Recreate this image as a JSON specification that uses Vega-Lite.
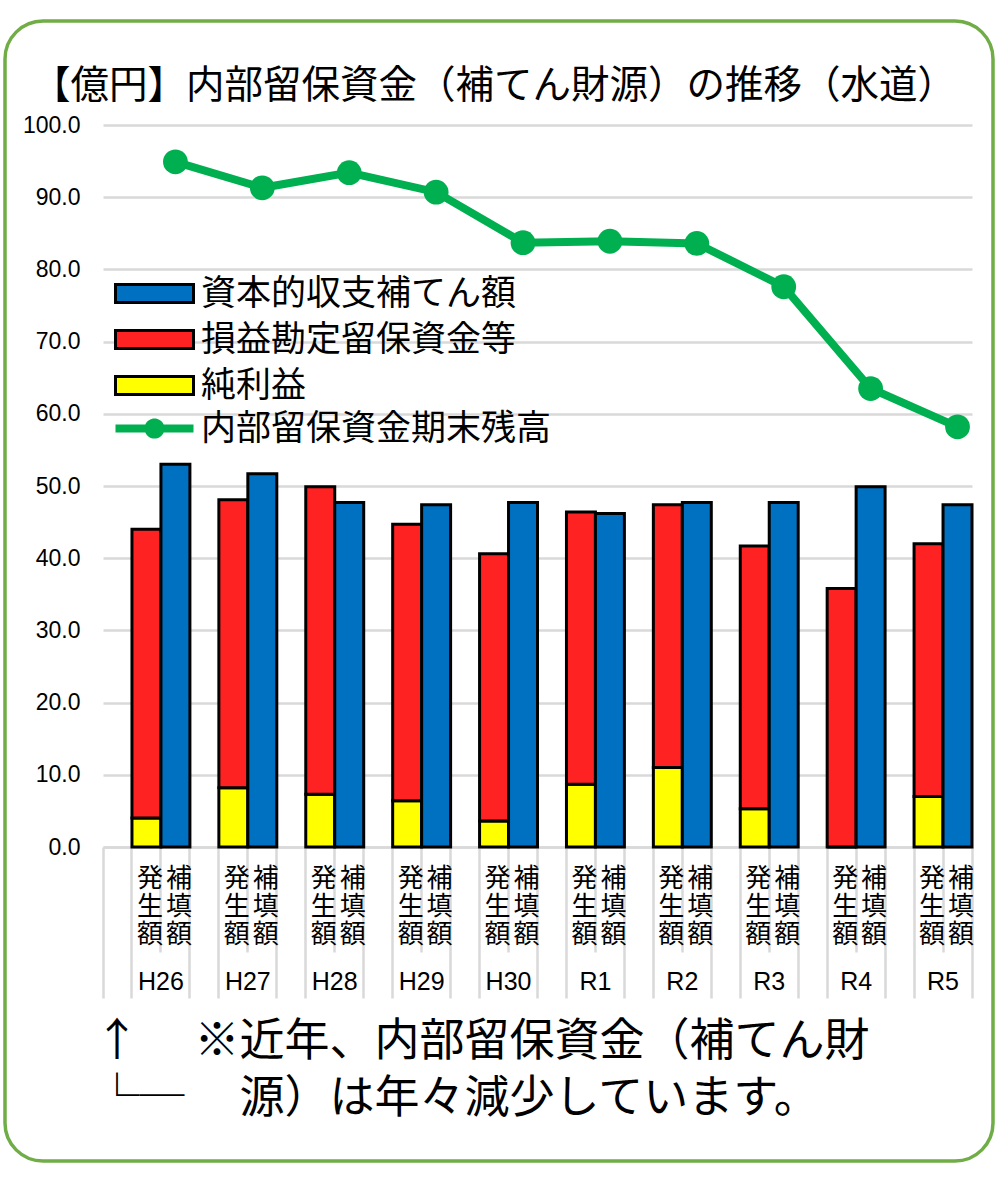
{
  "$schema": "https://vega.github.io/schema/vega-lite/v6.json",
  "width": 988,
  "height": 1140,
  "padding": {"left": 5, "top": 21, "right": 7, "bottom": 27},
  "autosize": {"type": "pad"},
  "background": "white",
  "config": {
    "view": {"stroke": "#70AD47", "strokeWidth": 3.5, "cornerRadius": 38, "fill": "white"},
    "font": "Noto Sans CJK JP"
  },
  "title": {
    "text": "【億円】内部留保資金（補てん財源）の推移（水道）",
    "font": "Noto Sans CJK JP",
    "fontSize": 38.5,
    "fontWeight": "normal",
    "color": "black",
    "anchor": "middle",
    "frame": "group",
    "baseline": "alphabetic",
    "offset": -115,
    "dx": -5
  },
  "datasets": {
    "bars": [
      {"cat": "H26|発生額", "series": "純利益", "v": 4.0},
      {"cat": "H26|発生額", "series": "損益勘定留保資金等", "v": 40.0},
      {"cat": "H26|補填額", "series": "資本的収支補てん額", "v": 53.0},
      {"cat": "H27|発生額", "series": "純利益", "v": 8.2},
      {"cat": "H27|発生額", "series": "損益勘定留保資金等", "v": 39.9},
      {"cat": "H27|補填額", "series": "資本的収支補てん額", "v": 51.7},
      {"cat": "H28|発生額", "series": "純利益", "v": 7.3},
      {"cat": "H28|発生額", "series": "損益勘定留保資金等", "v": 42.6},
      {"cat": "H28|補填額", "series": "資本的収支補てん額", "v": 47.7},
      {"cat": "H29|発生額", "series": "純利益", "v": 6.4},
      {"cat": "H29|発生額", "series": "損益勘定留保資金等", "v": 38.3},
      {"cat": "H29|補填額", "series": "資本的収支補てん額", "v": 47.4},
      {"cat": "H30|発生額", "series": "純利益", "v": 3.6},
      {"cat": "H30|発生額", "series": "損益勘定留保資金等", "v": 37.0},
      {"cat": "H30|補填額", "series": "資本的収支補てん額", "v": 47.7},
      {"cat": "R1|発生額", "series": "純利益", "v": 8.7},
      {"cat": "R1|発生額", "series": "損益勘定留保資金等", "v": 37.7},
      {"cat": "R1|補填額", "series": "資本的収支補てん額", "v": 46.2},
      {"cat": "R2|発生額", "series": "純利益", "v": 11.0},
      {"cat": "R2|発生額", "series": "損益勘定留保資金等", "v": 36.4},
      {"cat": "R2|補填額", "series": "資本的収支補てん額", "v": 47.7},
      {"cat": "R3|発生額", "series": "純利益", "v": 5.3},
      {"cat": "R3|発生額", "series": "損益勘定留保資金等", "v": 36.4},
      {"cat": "R3|補填額", "series": "資本的収支補てん額", "v": 47.7},
      {"cat": "R4|発生額", "series": "純利益", "v": 0},
      {"cat": "R4|発生額", "series": "損益勘定留保資金等", "v": 35.8},
      {"cat": "R4|補填額", "series": "資本的収支補てん額", "v": 49.9},
      {"cat": "R5|発生額", "series": "純利益", "v": 7.0},
      {"cat": "R5|発生額", "series": "損益勘定留保資金等", "v": 35.0},
      {"cat": "R5|補填額", "series": "資本的収支補てん額", "v": 47.4}
    ],
    "line": [
      {"cat": "H26|補填額", "series": "内部留保資金期末残高", "v": 94.9},
      {"cat": "H27|補填額", "series": "内部留保資金期末残高", "v": 91.3},
      {"cat": "H28|補填額", "series": "内部留保資金期末残高", "v": 93.4},
      {"cat": "H29|補填額", "series": "内部留保資金期末残高", "v": 90.7},
      {"cat": "H30|補填額", "series": "内部留保資金期末残高", "v": 83.7},
      {"cat": "R1|補填額", "series": "内部留保資金期末残高", "v": 83.9},
      {"cat": "R2|補填額", "series": "内部留保資金期末残高", "v": 83.6},
      {"cat": "R3|補填額", "series": "内部留保資金期末残高", "v": 77.6},
      {"cat": "R4|補填額", "series": "内部留保資金期末残高", "v": 63.5},
      {"cat": "R5|補填額", "series": "内部留保資金期末残高", "v": 58.2}
    ]
  },
  "layer": [
    {
      "data": {"name": "bars"},
      "mark": {"type": "bar", "stroke": "black", "strokeWidth": 3},
      "encoding": {
        "x": {
          "field": "cat",
          "type": "nominal",
          "sort": null,
          "scale": {
            "domain": ["H26|", "H26|発生額", "H26|補填額", "H27|", "H27|発生額", "H27|補填額", "H28|", "H28|発生額", "H28|補填額", "H29|", "H29|発生額", "H29|補填額", "H30|", "H30|発生額", "H30|補填額", "R1|", "R1|発生額", "R1|補填額", "R2|", "R2|発生額", "R2|補填額", "R3|", "R3|発生額", "R3|補填額", "R4|", "R4|発生額", "R4|補填額", "R5|", "R5|発生額", "R5|補填額"],
            "range": [98, 967],
            "paddingInner": 0,
            "paddingOuter": 0
          },
          "axis": {
            "orient": "bottom",
            "offset": -314,
            "bandPosition": 1,
            "grid": false,
            "domain": true,
            "domainColor": "#D9D9D9",
            "domainWidth": 2.5,
            "ticks": true,
            "tickColor": "#D9D9D9",
            "tickWidth": 2.5,
            "tickSize": {"condition": {"test": "indexof(datum.value, '発生額') >= 0", "value": 105}, "value": 151},
            "labelExpr": "indexof(datum.value, '発生額') >= 0 ? split(datum.value, '|')[0] : ''",
            "labelBaseline": "middle",
            "labelAlign": "center",
            "labelOffset": 14.5,
            "labelPadding": 29,
            "labelFont": "Liberation Sans",
            "labelFontSize": 25,
            "labelColor": "black",
            "labelOverlap": false,
            "labelBound": false,
            "labelFlush": false,
            "labelAngle": 0,
            "title": ["↑　 ※近年、内部留保資金（補てん財", "└─　 源）は年々減少しています。"],
            "titleFont": "Noto Sans CJK JP",
            "titleFontSize": 45,
            "titleFontWeight": "normal",
            "titleColor": "black",
            "titleAlign": "left",
            "titleAnchor": "start",
            "titleBaseline": "top",
            "titleLineHeight": 57,
            "titleX": 89,
            "titleY": 172
          }
        },
        "y": {
          "field": "v",
          "type": "quantitative",
          "stack": "zero",
          "scale": {"domain": [0, 100], "range": [826, 104], "nice": false, "zero": true},
          "axis": {
            "orient": "left",
            "offset": -98,
            "values": [0, 10, 20, 30, 40, 50, 60, 70, 80, 90, 100],
            "format": ".1f",
            "domain": false,
            "ticks": false,
            "tickSize": 0,
            "labelPadding": 23,
            "labelFont": "Liberation Sans",
            "labelFontSize": 23,
            "labelColor": "black",
            "grid": true,
            "gridColor": "#D9D9D9",
            "gridWidth": 2.5,
            "title": null
          }
        },
        "color": {
          "field": "series",
          "type": "nominal",
          "scale": {
            "domain": ["資本的収支補てん額", "損益勘定留保資金等", "純利益"],
            "range": ["#0070C0", "#FF2222", "#FFFF00"]
          },
          "legend": {
            "orient": "none",
            "legendX": 103,
            "legendY": 255,
            "title": null,
            "direction": "vertical",
            "symbolType": "M-1,-0.9H6.8V0.9H-1Z",
            "symbolSize": 400,
            "symbolStrokeColor": "black",
            "symbolStrokeWidth": 3,
            "symbolOpacity": 1,
            "labelFont": "Noto Sans CJK JP",
            "labelFontSize": 35,
            "labelColor": "black",
            "labelOffset": 58,
            "labelLimit": 600,
            "rowPadding": 10
          }
        },
        "order": {"field": "series", "sort": "descending"}
      }
    },
    {
      "data": {"name": "line"},
      "mark": {"type": "line", "color": "#00B050", "strokeWidth": 8},
      "encoding": {
        "x": {
          "field": "cat",
          "type": "nominal",
          "sort": null,
          "scale": {
            "domain": ["H26|", "H26|発生額", "H26|補填額", "H27|", "H27|発生額", "H27|補填額", "H28|", "H28|発生額", "H28|補填額", "H29|", "H29|発生額", "H29|補填額", "H30|", "H30|発生額", "H30|補填額", "R1|", "R1|発生額", "R1|補填額", "R2|", "R2|発生額", "R2|補填額", "R3|", "R3|発生額", "R3|補填額", "R4|", "R4|発生額", "R4|補填額", "R5|", "R5|発生額", "R5|補填額"],
            "range": [98, 967],
            "paddingInner": 0,
            "paddingOuter": 0
          },
          "axis": {
            "orient": "bottom",
            "offset": -314,
            "bandPosition": 0,
            "grid": false,
            "domain": false,
            "ticks": true,
            "tickColor": "#D9D9D9",
            "tickWidth": 2.5,
            "tickSize": {"condition": {"test": "datum.value === 'H26|'", "value": 151}, "value": 0},
            "labelExpr": "split(split(datum.value, '|')[1], '')",
            "labelOffset": 3.5,
            "labelPadding": 18,
            "labelBaseline": "top",
            "labelAlign": "center",
            "labelAngle": 0,
            "labelFont": "Noto Sans CJK JP",
            "labelFontSize": 26,
            "labelLineHeight": 28,
            "labelColor": "black",
            "labelOverlap": false,
            "labelBound": false,
            "labelFlush": false,
            "title": null
          }
        },
        "y": {"field": "v", "type": "quantitative"}
      }
    },
    {
      "data": {"name": "line"},
      "mark": {"type": "point", "filled": true, "size": 615, "opacity": 1},
      "encoding": {
        "x": {
          "field": "cat",
          "type": "nominal",
          "sort": null,
          "axis": null
        },
        "y": {"field": "v", "type": "quantitative"},
        "fill": {
          "field": "series",
          "type": "nominal",
          "scale": {"domain": ["内部留保資金期末残高"], "range": ["#00B050"]},
          "legend": {
            "orient": "none",
            "legendX": 103,
            "legendY": 390,
            "title": null,
            "symbolType": "M-1,-0.4H1.98A1,1 0 0,1 3.82,-0.4H6.8V0.4H3.82A1,1 0 0,1 1.98,0.4H-1Z",
            "symbolSize": 400,
            "symbolStrokeWidth": 0,
            "symbolOpacity": 1,
            "labelFont": "Noto Sans CJK JP",
            "labelFontSize": 35,
            "labelColor": "black",
            "labelOffset": 58,
            "labelLimit": 600
          }
        }
      }
    }
  ],
  "resolve": {"axis": {"x": "independent"}}
}
